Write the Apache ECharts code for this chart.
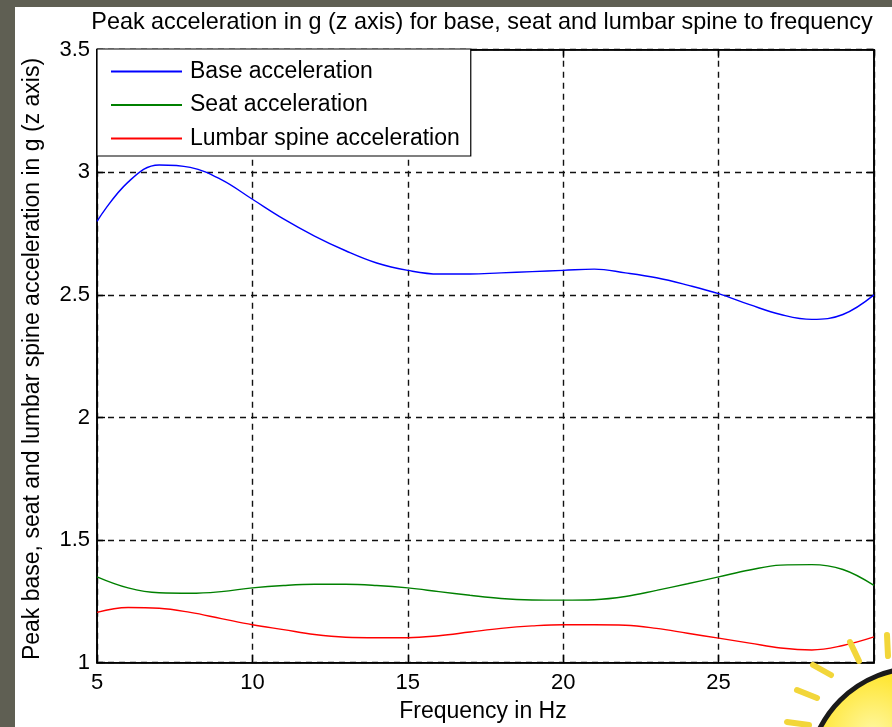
<!DOCTYPE html>
<html>
<head>
<meta charset="utf-8">
<script src="https://cdn.jsdelivr.net/npm/echarts@6/dist/echarts.min.js"></script>
<style>
html,body{margin:0;padding:0;background:#fff;}
#chart{width:892px;height:727px;}
</style>
</head>
<body>
<div id="chart"></div>
<script>
var freq = [5,6,7,8,9,10,11,12,13,14,15,16,17,18,19,20,21,22,23,24,25,26,27,28,29,30];
var baseAcc = [2.80,2.96,3.03,3.02,2.97,2.89,2.81,2.74,2.68,2.63,2.60,2.585,2.585,2.59,2.595,2.60,2.605,2.59,2.57,2.54,2.505,2.46,2.42,2.40,2.42,2.50];
var seatAcc = [1.35,1.305,1.285,1.283,1.29,1.305,1.315,1.32,1.32,1.315,1.305,1.29,1.275,1.262,1.256,1.255,1.257,1.27,1.295,1.322,1.35,1.378,1.398,1.40,1.38,1.315];
var lumbarAcc = [1.205,1.225,1.222,1.205,1.18,1.155,1.135,1.115,1.104,1.102,1.102,1.11,1.125,1.14,1.15,1.155,1.155,1.153,1.14,1.12,1.10,1.08,1.06,1.052,1.07,1.105];
var seriesNames = ['Base acceleration','Seat acceleration','Lumbar spine acceleration'];
var seriesColors = ['#0000ff','#008000','#ff0000'];
var titleText = 'Peak acceleration in g (z axis) for base, seat and lumbar spine to frequency';
var xTitle = 'Frequency in Hz';
var yTitle = 'Peak base, seat and lumbar spine acceleration in g (z axis)';

var FONT = '"Liberation Sans", Arial, sans-serif';
function pairs(arr){ return freq.map(function(f,i){ return [f, arr[i]]; }); }
var allData = [baseAcc, seatAcc, lumbarAcc];

var chart = echarts.init(document.getElementById('chart'));
var axisLineStyle = {color:'#000', width:1.6};
var splitStyle = {color:'#111', width:1.4, type:[6,5]};
var tickStyle = {color:'#000', width:1.4};
var option = {
  animation:false,
  backgroundColor:'#fff',
  grid:{left:97, top:49.7, right:18, bottom:64.3, show:true, borderColor:'#000', borderWidth:1.6, backgroundColor:'transparent', outerBoundsMode:'none'},
  xAxis:[
    {type:'value', min:5, max:30, interval:5, position:'bottom',
     axisLine:{show:true, lineStyle:axisLineStyle},
     axisTick:{show:true, inside:true, length:8, lineStyle:tickStyle},
     axisLabel:{fontSize:22, fontFamily:FONT, color:'#000', margin:9, showMaxLabel:false},
     splitLine:{show:true, lineStyle:splitStyle}},
    {type:'value', min:5, max:30, interval:5, position:'top',
     axisLine:{show:true, lineStyle:axisLineStyle},
     axisTick:{show:true, inside:true, length:8, lineStyle:tickStyle},
     axisLabel:{show:false}, splitLine:{show:false}}
  ],
  yAxis:[
    {type:'value', min:1, max:3.5, interval:0.5, position:'left',
     axisLine:{show:true, lineStyle:axisLineStyle},
     axisTick:{show:true, inside:true, length:8, lineStyle:tickStyle},
     axisLabel:{fontSize:22, fontFamily:FONT, color:'#000', margin:7},
     splitLine:{show:true, lineStyle:splitStyle}},
    {type:'value', min:1, max:3.5, interval:0.5, position:'right',
     axisLine:{show:true, lineStyle:axisLineStyle},
     axisTick:{show:true, inside:true, length:8, lineStyle:tickStyle},
     axisLabel:{show:false}, splitLine:{show:false}}
  ],
  legend:{
    orient:'vertical', left:97, top:49, backgroundColor:'#fff', borderColor:'#000', borderWidth:1.2,
    padding:[11,11,6,14], itemGap:10.5, itemWidth:71, itemHeight:2, icon:'rect',
    textStyle:{fontSize:23, fontFamily:FONT, color:'#000', lineHeight:23, padding:[0,0,0,3]},
    data:seriesNames
  },
  series: seriesNames.map(function(n,i){
    return {name:n, type:'line', data:pairs(allData[i]), xAxisIndex:0, yAxisIndex:0,
      showSymbol:false, symbol:'none', smooth:0.4,
      lineStyle:{color:seriesColors[i], width:1.4}, itemStyle:{color:seriesColors[i]}};
  }),
  graphic:[
    {type:'rect', shape:{x:0,y:0,width:892,height:7}, style:{fill:'#5f5f53'}, z:100},
    {type:'rect', shape:{x:0,y:0,width:15,height:727}, style:{fill:'#5f5f53'}, z:100},
    {type:'text', x:482, y:23, z:100, style:{text:titleText, fontSize:23.4, fontFamily:FONT, fill:'#000', align:'center', verticalAlign:'middle'}},
    {type:'text', x:483, y:712, z:100, style:{text:xTitle, fontSize:23, fontFamily:FONT, fill:'#000', align:'center', verticalAlign:'middle'}},
    {type:'text', x:33, y:359, rotation:Math.PI/2, z:100, style:{text:yTitle, fontSize:23, fontFamily:FONT, fill:'#000', align:'center', verticalAlign:'middle'}},
    {type:'line', shape:{x1:850,y1:642,x2:859,y2:661}, z:110, style:{stroke:'#f2d63a', lineWidth:6, lineCap:'round'}},
    {type:'line', shape:{x1:813,y1:665,x2:831,y2:675}, z:110, style:{stroke:'#f2d63a', lineWidth:6, lineCap:'round'}},
    {type:'line', shape:{x1:797,y1:690,x2:817,y2:698}, z:110, style:{stroke:'#f2d63a', lineWidth:6, lineCap:'round'}},
    {type:'line', shape:{x1:787,y1:722,x2:809,y2:725}, z:110, style:{stroke:'#f2d63a', lineWidth:6, lineCap:'round'}},
    {type:'line', shape:{x1:887,y1:635,x2:888,y2:656}, z:110, style:{stroke:'#f2d63a', lineWidth:6, lineCap:'round'}},
    {type:'circle', shape:{cx:918,cy:778,r:110}, z:110,
     style:{fill:new echarts.graphic.RadialGradient(0.3,0.3,0.8,[{offset:0,color:'#fff7a0'},{offset:0.4,color:'#ffe21a'},{offset:1,color:'#ffc800'}]), stroke:'#1a1a1a', lineWidth:5}}
  ]
};
chart.setOption(option);
</script>
</body>
</html>
